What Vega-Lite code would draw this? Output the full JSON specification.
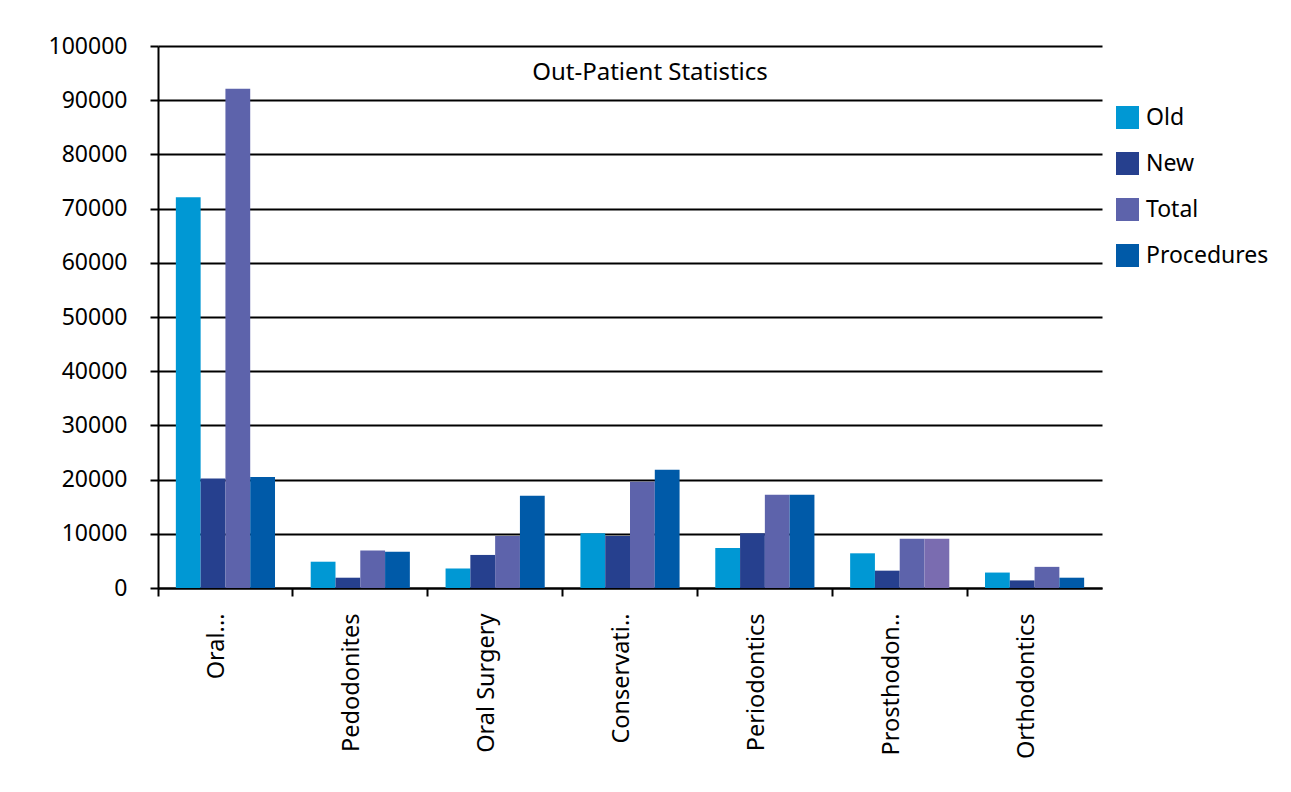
{
  "$schema": "https://vega.github.io/schema/vega-lite/v6.json",
  "autosize": {"type": "none"},
  "padding": {"left": 158, "top": 46, "right": 189, "bottom": 204},
  "width": 944,
  "height": 542,
  "background": "white",
  "title": {
    "text": "Out-Patient Statistics",
    "anchor": "middle",
    "orient": "top",
    "frame": "group",
    "offset": -69,
    "dx": 20,
    "baseline": "alphabetic",
    "font": "Noto Sans",
    "fontSize": 24,
    "fontWeight": "normal",
    "color": "black"
  },
  "data": {
    "values": [
      {"dept": "Oral...", "series": "Old", "value": 72100},
      {"dept": "Oral...", "series": "New", "value": 20200},
      {"dept": "Oral...", "series": "Total", "value": 92100},
      {"dept": "Oral...", "series": "Procedures", "value": 20500},
      {"dept": "Pedodonites", "series": "Old", "value": 4850},
      {"dept": "Pedodonites", "series": "New", "value": 1900},
      {"dept": "Pedodonites", "series": "Total", "value": 6900},
      {"dept": "Pedodonites", "series": "Procedures", "value": 6700},
      {"dept": "Oral Surgery", "series": "Old", "value": 3600},
      {"dept": "Oral Surgery", "series": "New", "value": 6100},
      {"dept": "Oral Surgery", "series": "Total", "value": 9600},
      {"dept": "Oral Surgery", "series": "Procedures", "value": 17000},
      {"dept": "Conservati..", "series": "Old", "value": 10100},
      {"dept": "Conservati..", "series": "New", "value": 9600},
      {"dept": "Conservati..", "series": "Total", "value": 19600},
      {"dept": "Conservati..", "series": "Procedures", "value": 21800},
      {"dept": "Periodontics", "series": "Old", "value": 7400},
      {"dept": "Periodontics", "series": "New", "value": 10100},
      {"dept": "Periodontics", "series": "Total", "value": 17200},
      {"dept": "Periodontics", "series": "Procedures", "value": 17200},
      {"dept": "Prosthodon..", "series": "Old", "value": 6400},
      {"dept": "Prosthodon..", "series": "New", "value": 3200},
      {"dept": "Prosthodon..", "series": "Total", "value": 9100},
      {"dept": "Prosthodon..", "series": "Procedures", "value": 9100},
      {"dept": "Orthodontics", "series": "Old", "value": 2850},
      {"dept": "Orthodontics", "series": "New", "value": 1400},
      {"dept": "Orthodontics", "series": "Total", "value": 3900},
      {"dept": "Orthodontics", "series": "Procedures", "value": 1900}
    ]
  },
  "mark": {"type": "bar"},
  "encoding": {
    "x": {
      "field": "dept",
      "type": "nominal",
      "sort": null,
      "scale": {"paddingInner": 0, "paddingOuter": 0},
      "axis": {
        "title": null,
        "labelAngle": 270,
        "labelFont": "Noto Sans",
        "labelFontSize": 23.5,
        "labelColor": "black",
        "labelPadding": 17,
        "labelOffset": -8,
        "labelLimit": 200,
        "domainColor": "black",
        "domainWidth": 2,
        "tickColor": "black",
        "tickWidth": 2,
        "tickSize": 8,
        "bandPosition": 0,
        "grid": false
      }
    },
    "xOffset": {
      "field": "series",
      "type": "nominal",
      "sort": ["Old", "New", "Total", "Procedures"],
      "scale": {"paddingInner": 0, "paddingOuter": 0.72}
    },
    "y": {
      "field": "value",
      "type": "quantitative",
      "scale": {"domain": [0, 100000], "nice": false},
      "axis": {
        "title": null,
        "values": [0, 10000, 20000, 30000, 40000, 50000, 60000, 70000, 80000, 90000, 100000],
        "format": "d",
        "labelFont": "Noto Sans",
        "labelFontSize": 23,
        "labelColor": "black",
        "labelPadding": 23,
        "tickColor": "black",
        "tickWidth": 2,
        "tickSize": 8,
        "domainColor": "black",
        "domainWidth": 2,
        "grid": true,
        "gridColor": "black",
        "gridWidth": 2,
        "gridOpacity": 1
      }
    },
    "color": {
      "condition": {
        "test": "datum.dept === 'Prosthodon..' && datum.series === 'Procedures'",
        "value": "#7a6cb0"
      },
      "field": "series",
      "type": "nominal",
      "sort": ["Old", "New", "Total", "Procedures"],
      "scale": {
        "domain": ["Old", "New", "Total", "Procedures"],
        "range": ["#0098d4", "#26408e", "#5d63ab", "#005aa8"]
      },
      "legend": {
        "title": null,
        "orient": "none",
        "legendX": 958,
        "legendY": 60,
        "symbolType": "square",
        "symbolSize": 529,
        "symbolStrokeWidth": 0,
        "symbolOpacity": 1,
        "labelFont": "Noto Sans",
        "labelFontSize": 23,
        "labelColor": "black",
        "labelOffset": 7,
        "rowPadding": 22,
        "labelLimit": 300
      }
    }
  },
  "config": {
    "view": {"stroke": null},
    "font": "Noto Sans"
  }
}
